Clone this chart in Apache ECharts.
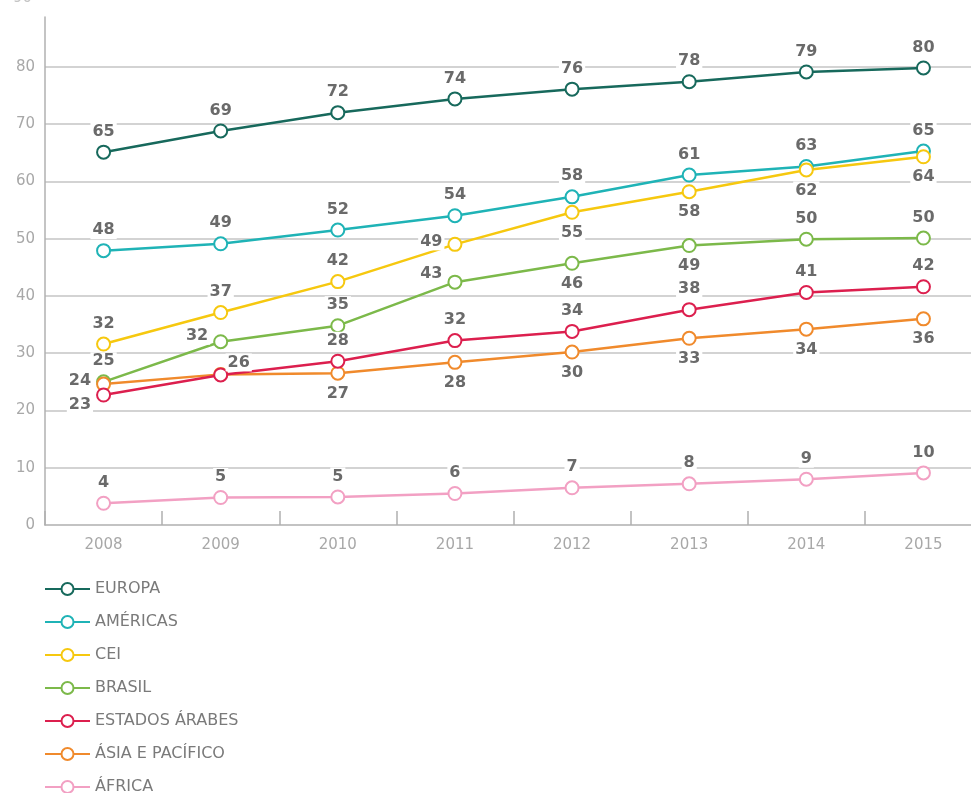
<!DOCTYPE html>
<html>
<head>
<meta charset="utf-8">
<script src="https://cdn.jsdelivr.net/npm/echarts@6/dist/echarts.min.js"></script>
<style>
  html, body { margin: 0; padding: 0; background: #fff; overflow: hidden; }
  #chart { width: 982px; height: 840px; }
</style>
</head>
<body>
<div id="chart"></div>
<script>
// ---- Data ----
const years = ['2008', '2009', '2010', '2011', '2012', '2013', '2014', '2015'];
const seriesNames = ['EUROPA', 'AMÉRICAS', 'CEI', 'BRASIL', 'ESTADOS ÁRABES', 'ÁSIA E PACÍFICO', 'ÁFRICA'];

// plotted positions
const europa   = [65.1, 68.8, 72.0, 74.4, 76.1, 77.4, 79.1, 79.8];
const americas = [47.9, 49.1, 51.5, 54.0, 57.3, 61.1, 62.6, 65.3];
const cei      = [31.6, 37.1, 42.5, 49.0, 54.6, 58.2, 62.0, 64.3];
const brasil   = [25.0, 32.0, 34.8, 42.4, 45.7, 48.8, 49.9, 50.1];
const arabes   = [22.7, 26.2, 28.6, 32.2, 33.8, 37.6, 40.6, 41.6];
const asia     = [24.6, 26.3, 26.5, 28.4, 30.2, 32.6, 34.2, 36.0];
const africa   = [3.8, 4.8, 4.9, 5.5, 6.5, 7.2, 8.0, 9.1];

// printed value labels
const europaLabels   = ['65', '69', '72', '74', '76', '78', '79', '80'];
const americasLabels = ['48', '49', '52', '54', '58', '61', '63', '65'];
const ceiLabels      = ['32', '37', '42', '49', '55', '58', '62', '64'];
const brasilLabels   = ['25', '32', '35', '43', '46', '49', '50', '50'];
const arabesLabels   = ['23', '26', '28', '32', '34', '38', '41', '42'];
const asiaLabels     = ['24', '', '27', '28', '30', '33', '34', '36'];
const africaLabels   = ['4', '5', '5', '6', '7', '8', '9', '10'];

const yTicks = ['0', '10', '20', '30', '40', '50', '60', '70', '80'];

// ---- Layout / style (not data) ----
const FONT = '"DejaVu Sans", "Liberation Sans", sans-serif';
const colors = ['#17695c', '#1fb3b6', '#f6c80f', '#7cb94a', '#dc1f4e', '#f08a2c', '#f2a0c3'];
const labelPlacement = [
  ['t','t','t','t','t','t','t','t'],
  ['t','t','t','t','t','t','t','t'],
  ['t','t','t','l','b','b','b','b'],
  ['t','lt','t','lt2','b','b','t','t'],
  ['lb','tr','t','t','t','t','t','t'],
  ['l','n','b','b','b','b','b','b'],
  ['t','t','t','t','t','t','t','t']
];
const placementCfg = {
  t:  { position: 'top', distance: 4 },
  b:  { position: 'bottom', distance: 4 },
  l:  { position: 'left', distance: 3, offset: [0, -3] },
  lt: { position: 'left', distance: 3, offset: [0, -6] },
  lt2:{ position: 'left', distance: 3, offset: [0, -8] },
  lb: { position: 'left', distance: 3, offset: [0, 10] },
  tr: { position: 'top', distance: 4, offset: [18, 8] },
  n:  { show: false }
};

const values = [europa, americas, cei, brasil, arabes, asia, africa];
const labels = [europaLabels, americasLabels, ceiLabels, brasilLabels, arabesLabels, asiaLabels, africaLabels];

const labelFont = {
  color: '#6a6a6a',
  fontSize: 16,
  fontWeight: 'bold',
  fontFamily: FONT,
  backgroundColor: '#fff',
  padding: [1, 2]
};

const series = seriesNames.map((name, si) => ({
  name: name,
  type: 'line',
  z: si === 4 ? 4 : 2,
  data: values[si].map((v, i) => ({
    value: v,
    label: Object.assign({}, placementCfg[labelPlacement[si][i]], {
      formatter: () => labels[si][i]
    })
  })),
  symbol: 'emptyCircle',
  symbolSize: 13,
  lineStyle: { width: 2.5, color: colors[si] },
  itemStyle: { color: colors[si], borderColor: colors[si], borderWidth: 2.5 },
  label: Object.assign({ show: true }, labelFont),
  emphasis: { disabled: true }
}));

const chart = echarts.init(document.getElementById('chart'), null, { renderer: 'canvas' });
chart.setOption({
  animation: false,
  backgroundColor: '#fff',
  color: colors,
  grid: { left: 45, right: 0, top: 17, bottom: 315, containLabel: false },
  xAxis: {
    type: 'category',
    data: years,
    boundaryGap: true,
    axisLine: { lineStyle: { color: '#b0b0b0', width: 1.5 } },
    axisTick: { show: true, inside: true, length: 14, lineStyle: { color: '#b0b0b0', width: 1.5 } },
    axisLabel: { color: '#a8a8a8', fontSize: 15, margin: 13, fontFamily: FONT },
    splitLine: { show: false }
  },
  yAxis: {
    type: 'value',
    min: 0,
    max: 88.7,
    interval: 10,
    axisLine: { show: true, lineStyle: { color: '#b0b0b0', width: 1.5 } },
    axisTick: { show: false },
    axisLabel: {
      color: '#a8a8a8', fontSize: 15, margin: 10, showMaxLabel: false,
      fontFamily: FONT,
      formatter: (v) => yTicks[Math.round(v / 10)] || ''
    },
    splitLine: { show: true, showMinLine: false, showMaxLine: false, lineStyle: { color: '#c4c4c4', width: 1.5 } }
  },
  legend: {
    orient: 'vertical',
    left: 44,
    top: 581,
    padding: 0,
    itemWidth: 45,
    itemHeight: 15,
    itemGap: 17,
    textStyle: { color: '#7a7a7a', fontSize: 16, fontFamily: FONT },
    data: seriesNames
  },
  graphic: [{
    type: 'text', left: 13, top: -9,
    style: { text: '90', fill: '#c4c4c4', fontSize: 15, fontFamily: FONT }
  }],
  series: series
});
</script>
</body>
</html>
